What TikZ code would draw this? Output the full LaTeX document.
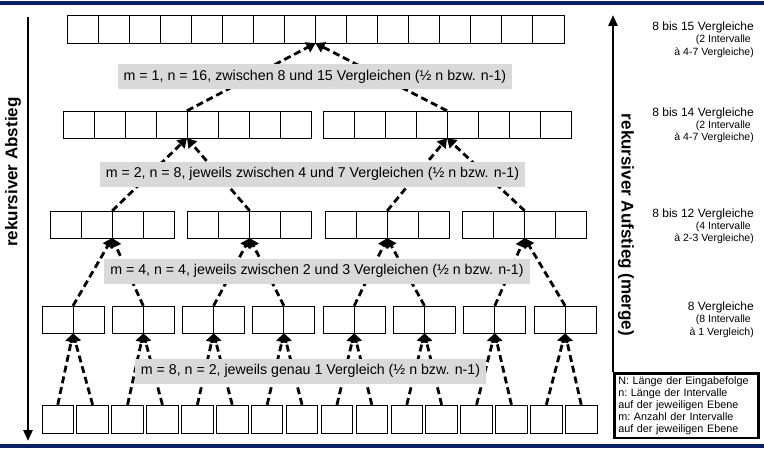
\documentclass[tikz,border=0pt]{standalone}
\usepackage{fontspec}
\setmainfont{Liberation Sans}
\usetikzlibrary{arrows.meta}
\definecolor{randblau}{RGB}{12,30,100}
\definecolor{labelgrau}{RGB}{217,217,217}

\tikzset{
  zelle/.style={draw=black, line width=0.9pt},
  gruppe/.style={inner sep=0pt, minimum height=27pt},
  merge/.style={line width=2.8pt, dash pattern=on 7pt off 4pt,
    -{Triangle[length=9pt,width=11pt]}},
  ebene/.style={fill=labelgrau, font=\fontsize{14.2}{16}\selectfont,
    inner xsep=6pt, minimum height=25pt},
  rand/.style={draw=randblau, line width=3.5pt},
  seite/.style={line width=2.6pt, -{Triangle[length=11pt,width=9pt]}},
  seitentext/.style={font=\fontsize{17}{20}\selectfont\bfseries},
  vgl/.style={anchor=east, inner sep=0pt, font=\fontsize{12}{14}\selectfont},
  vglsub/.style={anchor=east, inner sep=0pt, font=\fontsize{10.5}{12}\selectfont},
  legende/.style={draw, line width=2.5pt, anchor=north west, align=left,
    text width=136pt, inner xsep=4pt, inner ysep=3pt,
    font=\fontsize{10.8}{12.2}\selectfont\frenchspacing}
}

\begin{document}
\begin{tikzpicture}[x=1pt,y=-1pt]
\useasboundingbox (0,0) rectangle (764,452);

% Rand oben und unten
\draw[rand] (0,3) -- (764,3);
\draw[rand] (0,446) -- (764,446);

% Ebene 1: m = 1
\foreach \k in {0,...,15}
  \draw[zelle] (67+\k*31.06,15) rectangle ++(31.06,28);
\node[gruppe, minimum width=497pt, minimum height=28pt] (e1) at (315.5,29) {};

% Ebene 2: m = 2
\foreach \g/\x in {1/63,2/323} {
  \foreach \k in {0,...,7}
    \draw[zelle] (\x+\k*31,111) rectangle ++(31,27);
  \node[gruppe, minimum width=248pt] (e2-\g) at (\x+124,124.5) {};
}

% Ebene 3: m = 4
\foreach \g/\x in {1/50,2/187.5,3/325,4/462.5} {
  \foreach \k in {0,...,3}
    \draw[zelle] (\x+\k*31.1,211) rectangle ++(31.1,27);
  \node[gruppe, minimum width=124.4pt] (e3-\g) at (\x+62.2,224.5) {};
}

% Ebene 4: m = 8
\foreach \g in {1,...,8} {
  \pgfmathsetmacro\x{42+(\g-1)*70.3}
  \draw[zelle] (\x,306) rectangle ++(31,27);
  \draw[zelle] (\x+31,306) rectangle ++(31,27);
  \node[gruppe, minimum width=62pt] (e4-\g) at (\x+31,319.5) {};
}

% Ebene 5: einzelne Elemente
\foreach \k in {1,...,16} {
  \pgfmathsetmacro\x{42+(\k-1)*34.9}
  \draw[zelle] (\x,405) rectangle ++(31.5,28);
  \node[gruppe, minimum width=31.5pt, minimum height=28pt] (e5-\k) at (\x+15.75,419) {};
}

% Pfeile (merge)
\foreach \g in {1,2}
  \draw[merge] (e2-\g.north) -- (e1.south);
\foreach \g/\p in {1/1,2/1,3/2,4/2}
  \draw[merge] (e3-\g.north) -- (e2-\p.south);
\foreach \g in {1,...,8} {
  \pgfmathtruncatemacro\p{(\g+1)/2}
  \draw[merge] (e4-\g.north) -- (e3-\p.south);
}
\foreach \k in {1,...,16} {
  \pgfmathtruncatemacro\p{(\k+1)/2}
  \draw[merge] (e5-\k.north) -- (e4-\p.south);
}

% Beschriftung der Ebenen
\node[ebene] (l1) at (315,77) {m = 1, n = 16, zwischen 8 und 15 Vergleichen (½ n bzw. n-1)};
\node[ebene] (l2) at (312.5,174) {m = 2, n = 8, jeweils zwischen 4 und 7 Vergleichen (½ n bzw. n-1)};
\node[ebene] (l3) at (317,271) {m = 4, n = 4, jeweils zwischen 2 und 3 Vergleichen (½ n bzw. n-1)};
\node[ebene] (l4) at (310.5,371) {m = 8, n = 2, jeweils genau 1 Vergleich (½ n bzw. n-1)};

% Abstieg links
\coordinate (abOben) at (28,17);
\coordinate (abUnten) at (28,441);
\draw[seite] (abOben) -- (abUnten);
\node[seitentext, rotate=90] (abstieg) at (13,172) {rekursiver Abstieg};

% Aufstieg rechts mit Legende
\node[legende] (leg) at (613,372) {N: Länge der Eingabefolge\\
  n: Länge der Intervalle\\ auf der jeweiligen Ebene\\
  m: Anzahl der Intervalle\\ auf der jeweiligen Ebene};
\coordinate (aufOben) at (613,15);
\draw[seite] (leg.north west) -- (aufOben);
\node[seitentext, rotate=-90] (aufstieg) at (626,225) {rekursiver Aufstieg (merge)};

% Vergleiche je Ebene
\node[vgl] (v1) at (754,27) {8 bis 15 Vergleiche};
\node[vglsub] (v1a) at (751,40) {(2 Intervalle};
\node[vglsub] (v1b) at (754,53) {à 4-7 Vergleiche)};
\node[vgl] (v2) at (754,113) {8 bis 14 Vergleiche};
\node[vglsub] (v2a) at (751,126) {(2 Intervalle};
\node[vglsub] (v2b) at (754,138) {à 4-7 Vergleiche)};
\node[vgl] (v3) at (754,214) {8 bis 12 Vergleiche};
\node[vglsub] (v3a) at (751,227) {(4 Intervalle};
\node[vglsub] (v3b) at (754,239) {à 2-3 Vergleiche)};
\node[vgl] (v4) at (754,307) {8 Vergleiche};
\node[vglsub] (v4a) at (751,320) {(8 Intervalle};
\node[vglsub] (v4b) at (754,333) {à 1 Vergleich)};
\end{tikzpicture}
\end{document}
